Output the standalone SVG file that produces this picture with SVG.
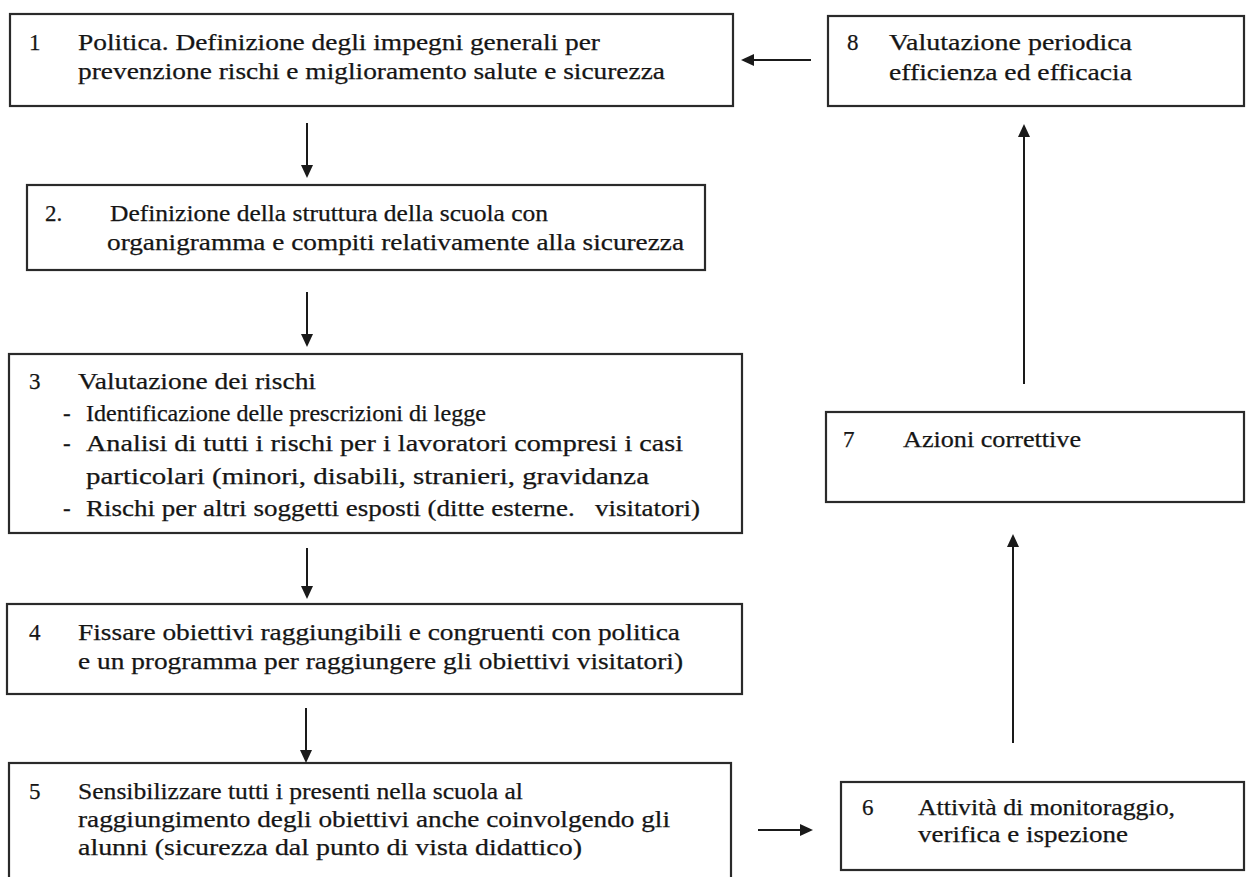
<svg xmlns="http://www.w3.org/2000/svg" width="1247" height="877" viewBox="0 0 1247 877">
<style>
.box{fill:#fff;stroke:#2a2a2a;stroke-width:2.2}
.t{font-family:"Liberation Serif","Times New Roman",serif;font-size:23px;fill:#151515;stroke:#151515;stroke-width:0.25}
.c{stroke:#1a1a1a;stroke-width:2;fill:none;marker-end:url(#ah)}
</style>
<defs>
<marker id="ah" markerWidth="6.5" markerHeight="6" refX="5.5" refY="3" orient="auto" markerUnits="strokeWidth">
<path d="M0,0 L6.5,3 L0,6 Z" fill="#1a1a1a"/>
</marker>
</defs>
<rect width="1247" height="877" fill="#fff"/>
<g id="n1">
<rect class="box" x="10" y="14" width="723" height="92"/>
<text class="t" x="29" y="50">1</text>
<text class="t" x="78" y="50" textLength="522" lengthAdjust="spacingAndGlyphs">Politica. Definizione degli impegni generali per</text>
<text class="t" x="78" y="79" textLength="587" lengthAdjust="spacingAndGlyphs">prevenzione rischi e miglioramento salute e sicurezza</text>
</g>
<g id="n8">
<rect class="box" x="828" y="16" width="416" height="90"/>
<text class="t" x="847" y="50">8</text>
<text class="t" x="889" y="50" textLength="243" lengthAdjust="spacingAndGlyphs">Valutazione periodica</text>
<text class="t" x="889" y="80" textLength="243" lengthAdjust="spacingAndGlyphs">efficienza ed efficacia</text>
</g>
<g id="n2">
<rect class="box" x="27" y="185" width="678" height="85"/>
<text class="t" x="45" y="221">2.</text>
<text class="t" x="110" y="221" textLength="438" lengthAdjust="spacingAndGlyphs">Definizione della struttura della scuola con</text>
<text class="t" x="107" y="250" textLength="577" lengthAdjust="spacingAndGlyphs">organigramma e compiti relativamente alla sicurezza</text>
</g>
<g id="n3">
<rect class="box" x="9" y="354" width="733" height="179"/>
<text class="t" x="29" y="389">3</text>
<text class="t" x="78" y="389" textLength="238" lengthAdjust="spacingAndGlyphs">Valutazione dei rischi</text>
<text class="t" x="63" y="421">-</text>
<text class="t" x="86" y="421" textLength="400" lengthAdjust="spacingAndGlyphs">Identificazione delle prescrizioni di legge</text>
<text class="t" x="63" y="451">-</text>
<text class="t" x="86" y="451" textLength="597" lengthAdjust="spacingAndGlyphs">Analisi di tutti i rischi per i lavoratori compresi i casi</text>
<text class="t" x="86" y="484" textLength="563" lengthAdjust="spacingAndGlyphs">particolari (minori, disabili, stranieri, gravidanza</text>
<text class="t" x="63" y="516">-</text>
<text class="t" x="86" y="516" textLength="614" lengthAdjust="spacingAndGlyphs" xml:space="preserve">Rischi per altri soggetti esposti (ditte esterne.   visitatori)</text>
</g>
<g id="n4">
<rect class="box" x="7" y="604" width="735" height="90"/>
<text class="t" x="29" y="640">4</text>
<text class="t" x="78" y="640" textLength="602" lengthAdjust="spacingAndGlyphs">Fissare obiettivi raggiungibili e congruenti con politica</text>
<text class="t" x="78" y="669" textLength="605" lengthAdjust="spacingAndGlyphs">e un programma per raggiungere gli obiettivi visitatori)</text>
</g>
<g id="n5">
<rect class="box" x="9" y="763" width="722" height="130"/>
<text class="t" x="29" y="799">5</text>
<text class="t" x="78" y="799" textLength="445" lengthAdjust="spacingAndGlyphs">Sensibilizzare tutti i presenti nella scuola al</text>
<text class="t" x="78" y="827" textLength="592" lengthAdjust="spacingAndGlyphs">raggiungimento degli obiettivi anche coinvolgendo gli</text>
<text class="t" x="78" y="855" textLength="504" lengthAdjust="spacingAndGlyphs">alunni (sicurezza dal punto di vista didattico)</text>
</g>
<g id="n6">
<rect class="box" x="841" y="782" width="403" height="88"/>
<text class="t" x="862" y="815">6</text>
<text class="t" x="918" y="815" textLength="257" lengthAdjust="spacingAndGlyphs">Attività di monitoraggio,</text>
<text class="t" x="918" y="842" textLength="210" lengthAdjust="spacingAndGlyphs">verifica e ispezione</text>
</g>
<g id="n7">
<rect class="box" x="826" y="412" width="418" height="90"/>
<text class="t" x="843" y="447">7</text>
<text class="t" x="903" y="447" textLength="178" lengthAdjust="spacingAndGlyphs">Azioni correttive</text>
</g>
<g id="connectors">
<line class="c" x1="307" y1="123" x2="307" y2="176"/>
<line class="c" x1="307" y1="292" x2="307" y2="345"/>
<line class="c" x1="307" y1="548" x2="307" y2="597"/>
<line class="c" x1="306" y1="708" x2="306" y2="761"/>
<line class="c" x1="758" y1="830" x2="811" y2="830"/>
<line class="c" x1="1013" y1="743" x2="1013" y2="536"/>
<line class="c" x1="1024" y1="384" x2="1024" y2="126"/>
<line class="c" x1="811" y1="60" x2="743" y2="60"/>
</g>
</svg>
